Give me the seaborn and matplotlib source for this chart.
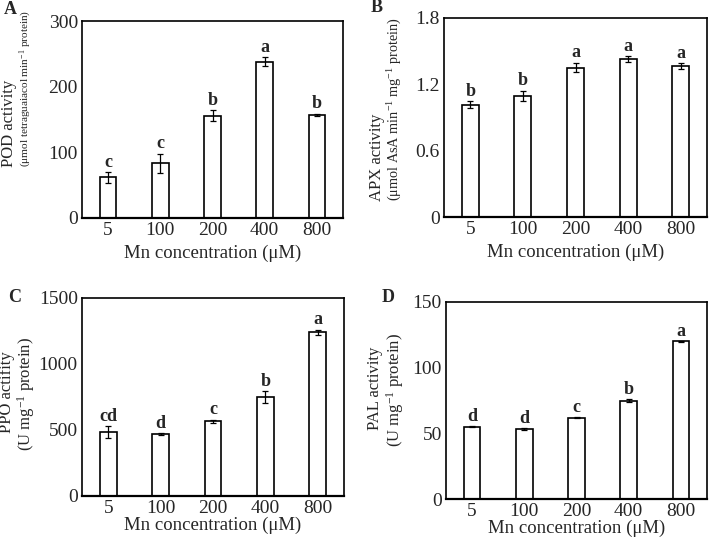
import numpy as np
import pandas as pd
import matplotlib
matplotlib.use('Agg')
import matplotlib.pyplot as plt
import seaborn as sns

# data
conc = ['5', '100', '200', '400', '800']

pod = [62, 83, 156, 238, 157]
pod_err = [8, 15, 8, 7, 2]
pod_sig = ['c', 'c', 'b', 'a', 'b']

apx = [1.016, 1.095, 1.352, 1.428, 1.364]
apx_err = [0.03, 0.047, 0.042, 0.027, 0.027]
apx_sig = ['b', 'b', 'a', 'a', 'a']

ppo = [487, 468, 565, 748, 1242]
ppo_err = [44, 6, 12, 45, 19]
ppo_sig = ['cd', 'd', 'c', 'b', 'a']

pal = [55.2, 53.3, 61.9, 74.8, 120.0]
pal_err = [0.3, 0.4, 0.6, 1.2, 0.3]
pal_sig = ['d', 'd', 'c', 'b', 'a']

sns.set_style('white')
plt.rcParams['font.family'] = ['Liberation Serif', 'DejaVu Serif']
plt.rcParams['mathtext.fontset'] = 'custom'
plt.rcParams['mathtext.rm'] = 'Liberation Serif'
plt.rcParams['mathtext.it'] = 'Liberation Serif:italic'
plt.rcParams['mathtext.bf'] = 'Liberation Serif:bold'

W, H = 709, 539
fig = plt.figure(figsize=(W / 100, H / 100), dpi=100)


def px_axes(left, top, right, bottom):
    return fig.add_axes([left / W, 1 - bottom / H, (right - left) / W, (bottom - top) / H])


def panel(ax, vals, errs, sig, ymax, ticks, ticklabels, xpad):
    df = pd.DataFrame({'conc': conc, 'val': vals})
    sns.barplot(data=df, x='conc', y='val', order=conc, color='white', saturation=1,
                edgecolor='black', linewidth=1.2, width=0.32, ax=ax)
    xs = np.arange(len(conc))
    ax.errorbar(xs, vals, yerr=errs, fmt='none', ecolor='black', elinewidth=0.9,
                capsize=2.2, capthick=0.9)
    for x, v, e, s in zip(xs, vals, errs, sig):
        ax.annotate(s, (x, v + e), xytext=(0, 1), textcoords='offset points',
                    ha='center', va='bottom', fontsize=13, fontweight='bold')
    ax.set_ylim(0, ymax)
    ax.set_xlim(-0.5, 4.5)
    ax.set_yticks(ticks)
    ax.set_yticklabels(ticklabels)
    ax.set_ylabel('')
    ax.set_xlabel('Mn concentration (μM)', fontsize=13.5, labelpad=xpad)
    ax.tick_params(axis='both', labelsize=14, direction='in', length=3, width=0.8, pad=3)
    ax.tick_params(axis='x', length=0, pad=3)
    for sp in ax.spines.values():
        sp.set_visible(True)
        sp.set_color('black')
        sp.set_linewidth(1.2)
    ax.spines['bottom'].set_linewidth(1.6)


def ftext(x, y, s, **kw):
    fig.text(x / W, 1 - y / H, s, **kw)


axA = px_axes(82, 21, 343, 218)
panel(axA, pod, pod_err, pod_sig, 300, [0, 100, 200, 300], ['0', '100', '200', '300'], 4)
axB = px_axes(444, 18, 707, 217)
panel(axB, apx, apx_err, apx_sig, 1.8, [0, 0.6, 1.2, 1.8], ['0', '0.6', '1.2', '1.8'], 4)
axC = px_axes(82, 298, 344, 496)
panel(axC, ppo, ppo_err, ppo_sig, 1500, [0, 500, 1000, 1500], ['0', '500', '1000', '1500'], 0)
axD = px_axes(446, 302, 707, 499)
panel(axD, pal, pal_err, pal_sig, 150, [0, 50, 100, 150], ['0', '50', '100', '150'], 0)

# y labels, two lines each
yl = dict(rotation=90, ha='center', va='bottom')
ftext(9, 167, 'POD activity', fontsize=12, **yl)
ftext(26, 167, '(μmol tetraguaiacol min$^{-1}$ protein)', fontsize=8.1, **yl)
ftext(377, 201, 'APX activity', fontsize=12, **yl)
ftext(395, 201, '(μmol AsA min$^{-1}$ mg$^{-1}$ protein)', fontsize=10.3, **yl)
yc = dict(rotation=90, ha='center', va='center')
ftext(7, 392, 'PPO actifity', fontsize=12, **yc)
ftext(26, 394, '(U mg$^{-1}$ protein)', fontsize=12, **yc)
ftext(375, 388, 'PAL activity', fontsize=12, **yc)
ftext(395, 390, '(U mg$^{-1}$ protein)', fontsize=12, **yc)

# panel letters
pl = dict(ha='center', va='center', fontsize=13, fontweight='bold')
ftext(10, 10, 'A', **pl)
ftext(377, 8, 'B', **pl)
ftext(15, 297, 'C', **pl)
ftext(388, 298, 'D', **pl)

fig.savefig('out.png', dpi=100)
plt.close(fig)
